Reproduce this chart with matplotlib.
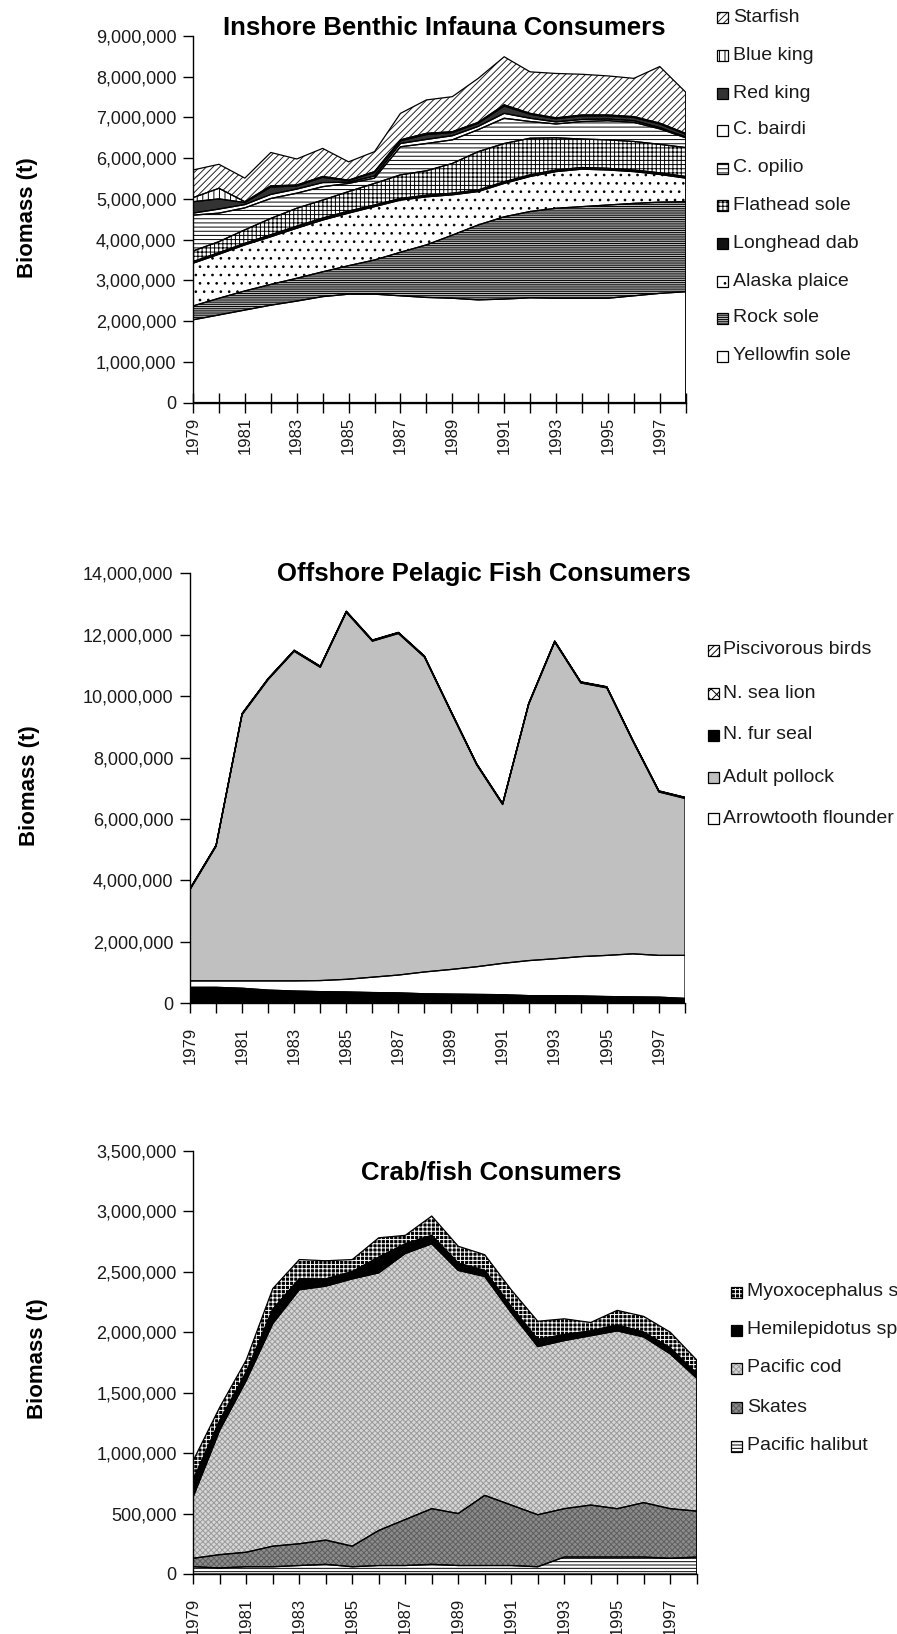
import matplotlib
matplotlib.use('Agg')
import matplotlib.pyplot as plt
from matplotlib.patches import Rectangle
from matplotlib.ticker import FuncFormatter, MultipleLocator
import numpy as np

plt.rcParams['font.family'] = ['Liberation Sans', 'DejaVu Sans']
plt.rcParams['hatch.linewidth'] = 0.7

W, H = 897, 1634

years = list(range(1979, 1999))
year_labels = [str(y) if y % 2 == 1 else '' for y in years]

# ---------------- Inshore Benthic Infauna Consumers (t) ----------------
yellowfin_sole = [2030000, 2150000, 2270000, 2390000, 2490000, 2600000, 2660000, 2660000, 2620000, 2580000,
                  2560000, 2520000, 2540000, 2570000, 2560000, 2560000, 2560000, 2620000, 2680000, 2720000]
rock_sole = [340000, 410000, 470000, 510000, 560000, 610000, 700000, 840000, 1070000, 1290000,
             1550000, 1840000, 2020000, 2120000, 2210000, 2250000, 2290000, 2270000, 2240000, 2210000]
alaska_plaice = [1050000, 1080000, 1130000, 1170000, 1230000, 1270000, 1290000, 1310000, 1280000, 1180000,
                 990000, 820000, 820000, 860000, 900000, 920000, 860000, 780000, 680000, 580000]
longhead_dab = [40000, 40000, 40000, 50000, 50000, 50000, 50000, 40000, 40000, 40000,
                40000, 40000, 40000, 40000, 40000, 40000, 40000, 40000, 40000, 40000]
flathead_sole = [260000, 270000, 330000, 400000, 440000, 440000, 480000, 530000, 580000, 600000,
                 730000, 940000, 940000, 900000, 790000, 700000, 700000, 700000, 700000, 710000]
c_opilio = [880000, 700000, 540000, 490000, 370000, 330000, 200000, 130000, 690000, 670000,
            580000, 540000, 620000, 410000, 340000, 430000, 470000, 470000, 380000, 240000]
c_bairdi = [50000, 100000, 80000, 100000, 100000, 100000, 30000, 50000, 80000, 100000,
            100000, 80000, 120000, 80000, 50000, 50000, 40000, 40000, 30000, 20000]
red_king = [280000, 250000, 50000, 180000, 80000, 130000, 40000, 90000, 70000, 120000,
            80000, 80000, 180000, 100000, 80000, 90000, 80000, 80000, 90000, 70000]
blue_king = [100000, 260000, 20000, 30000, 20000, 20000, 10000, 20000, 20000, 30000,
             20000, 20000, 30000, 20000, 20000, 20000, 20000, 20000, 20000, 20000]
starfish = [680000, 590000, 580000, 820000, 640000, 690000, 450000, 490000, 650000, 820000,
            860000, 1080000, 1180000, 1020000, 1090000, 1000000, 960000, 940000, 1390000, 1010000]

# ---------------- Offshore Pelagic Fish Consumers (t) ----------------
bottom_band = [520000, 520000, 490000, 430000, 400000, 380000, 370000, 350000, 340000, 310000,
               300000, 290000, 280000, 250000, 250000, 240000, 220000, 210000, 200000, 160000]
arrowtooth_flounder = [210000, 210000, 240000, 300000, 330000, 360000, 410000, 500000, 580000, 710000,
                       800000, 900000, 1020000, 1140000, 1200000, 1280000, 1340000, 1400000, 1360000, 1400000]
adult_pollock = [2970000, 4380000, 8670000, 9810000, 10730000, 10200000, 11950000, 10940000, 11120000, 10250000,
                 8410000, 6580000, 5170000, 8340000, 10310000, 8910000, 8710000, 6920000, 5320000, 5110000]
n_fur_seal = [20000, 20000, 20000, 20000, 20000, 20000, 20000, 20000, 20000, 20000,
              20000, 20000, 20000, 20000, 20000, 20000, 20000, 20000, 20000, 20000]
n_sea_lion = [10000, 10000, 10000, 10000, 10000, 10000, 10000, 10000, 10000, 10000,
              10000, 10000, 10000, 10000, 10000, 10000, 10000, 10000, 10000, 10000]
piscivorous_birds = [10000, 10000, 10000, 10000, 10000, 10000, 10000, 10000, 10000, 10000,
                     10000, 10000, 10000, 10000, 10000, 10000, 10000, 10000, 10000, 10000]

# ---------------- Crab/fish Consumers (t) ----------------
pacific_halibut = [60000, 50000, 60000, 60000, 70000, 80000, 60000, 70000, 70000, 80000,
                   70000, 70000, 70000, 60000, 140000, 140000, 140000, 140000, 130000, 140000]
skates = [70000, 110000, 120000, 170000, 180000, 200000, 170000, 290000, 380000, 460000,
          430000, 580000, 500000, 430000, 400000, 430000, 400000, 450000, 410000, 380000]
pacific_cod = [510000, 1030000, 1420000, 1840000, 2100000, 2100000, 2210000, 2130000, 2200000, 2190000,
               2010000, 1810000, 1590000, 1390000, 1390000, 1400000, 1470000, 1370000, 1280000, 1100000]
hemilepidotus = [140000, 80000, 70000, 120000, 90000, 60000, 60000, 130000, 80000, 70000,
                 60000, 50000, 50000, 60000, 50000, 40000, 50000, 40000, 50000, 40000]
myoxocephalus = [160000, 110000, 100000, 170000, 160000, 150000, 100000, 160000, 70000, 160000,
                 140000, 130000, 140000, 150000, 130000, 70000, 120000, 130000, 130000, 110000]

# styles: (facecolor, hatch, hatchcolor)
S = {
    'Yellowfin sole': ('white', None, 'black'),
    'Rock sole': ('#d2d2d2', '---------', 'black'),
    'Alaska plaice': ('white', '..', 'black'),
    'Longhead dab': ('#111111', None, 'black'),
    'Flathead sole': ('white', '++++', 'black'),
    'C. opilio': ('white', '----', 'black'),
    'C. bairdi': ('white', None, 'black'),
    'Red king': ('#333333', None, 'black'),
    'Blue king': ('white', '|||', 'black'),
    'Starfish': ('white', '/////', '#222222'),
    'Bottom': ('black', None, 'black'),
    'Arrowtooth flounder': ('white', None, 'black'),
    'Adult pollock': ('#c0c0c0', None, 'black'),
    'N. fur seal': ('black', '|', 'white'),
    'N. sea lion': ('white', 'xxx', 'black'),
    'Piscivorous birds': ('white', '/////', 'black'),
    'Pacific halibut': ('white', '-----', 'black'),
    'Skates': ('#8c8c8c', 'xxxxxx', '#5e5e5e'),
    'Pacific cod': ('#d6d6d6', 'xxxxxx', '#9a9a9a'),
    'Hemilepidotus sp.': ('black', None, 'black'),
    'Myoxocephalus sp.': ('black', '++++', 'white'),
}

fig = plt.figure(figsize=(W / 100, H / 100), dpi=100)


def px_axes(l, r, t, b):
    return fig.add_axes([l / W, 1 - b / H, (r - l) / W, (b - t) / H])


def stack(ax, series, names):
    x = np.array(years)
    lo = np.zeros(len(x))
    outlines = []
    for vals, name in zip(series, names):
        hi = lo + np.array(vals, dtype=float)
        fc, hatch, hc = S[name]
        ax.fill_between(x, lo, hi, facecolor=fc, edgecolor='none', linewidth=0, zorder=1)
        if hatch:
            ax.fill_between(x, lo, hi, facecolor='none', edgecolor=hc, hatch=hatch,
                            linewidth=0, zorder=1.5)
        outlines.append((lo.copy(), hi.copy()))
        lo = hi
    for a, b in outlines:
        ax.fill_between(x, a, b, facecolor='none', edgecolor='black', linewidth=0.9, zorder=2)


def style_axes(ax, ymax, ystep, xcross):
    ax.set_xlim(1979, 1998)
    ax.set_ylim(0, ymax)
    ax.yaxis.set_major_locator(MultipleLocator(ystep))
    ax.yaxis.set_major_formatter(FuncFormatter(lambda v, p: f'{int(round(v)):,}'))
    ax.set_xticks(years)
    ax.set_xticklabels(year_labels, rotation=90, fontsize=12, color='#1a1a1a')
    for s in ('top', 'right'):
        ax.spines[s].set_visible(False)
    for s in ('left', 'bottom'):
        ax.spines[s].set_linewidth(1.0)
        ax.spines[s].set_color('black')
        ax.spines[s].set_zorder(3)
    ax.tick_params(axis='y', direction='out', length=7, width=1, labelsize=13,
                   labelcolor='#1a1a1a', pad=5)
    if xcross:
        ax.tick_params(axis='x', direction='inout', length=14, width=1, pad=3)
    else:
        ax.tick_params(axis='x', direction='out', length=7, width=1, pad=10)
    ax.patch.set_alpha(0)


def legend(x_patch, x_text, ys, names, fs=14, size=11):
    for y, name in zip(ys, names):
        fc, hatch, hc = S[name]
        xy = (x_patch / W, 1 - (y + size / 2) / H)
        wh = (size / W, size / H)
        fig.add_artist(Rectangle(xy, *wh, transform=fig.transFigure, facecolor=fc,
                                 edgecolor='none', linewidth=0))
        if hatch:
            fig.add_artist(Rectangle(xy, *wh, transform=fig.transFigure, facecolor='none',
                                     edgecolor=hc, hatch=hatch, linewidth=0))
        fig.add_artist(Rectangle(xy, *wh, transform=fig.transFigure, facecolor='none',
                                 edgecolor='black', linewidth=0.9))
        fig.text(x_text / W, 1 - y / H, name, fontsize=fs, va='center', ha='left',
                 color='#1a1a1a')


# ---------- chart 1 ----------
ax1 = px_axes(193, 685.7, 36, 402.5)
names1 = ['Yellowfin sole', 'Rock sole', 'Alaska plaice', 'Longhead dab', 'Flathead sole',
          'C. opilio', 'C. bairdi', 'Red king', 'Blue king', 'Starfish']
stack(ax1, [yellowfin_sole, rock_sole, alaska_plaice, longhead_dab, flathead_sole,
            c_opilio, c_bairdi, red_king, blue_king, starfish], names1)
style_axes(ax1, 9000000, 1000000, True)
fig.text(444 / W, 1 - 28 / H, 'Inshore Benthic Infauna Consumers', fontsize=18.5,
         fontweight='bold', ha='center', va='center')
fig.text(27 / W, 1 - 218 / H, 'Biomass (t)', fontsize=16, fontweight='bold',
         rotation=90, ha='center', va='center')
legend(717, 733, [17, 55, 93, 130, 168, 205, 243, 281, 318, 356], names1[::-1])

# ---------- chart 2 ----------
ax2 = px_axes(190, 685, 573.3, 1003.3)
names2 = ['Bottom', 'Arrowtooth flounder', 'Adult pollock', 'N. fur seal', 'N. sea lion',
          'Piscivorous birds']
stack(ax2, [bottom_band, arrowtooth_flounder, adult_pollock, n_fur_seal, n_sea_lion,
            piscivorous_birds], names2)
style_axes(ax2, 14000000, 2000000, False)
fig.text(484 / W, 1 - 574 / H, 'Offshore Pelagic Fish Consumers', fontsize=18.5,
         fontweight='bold', ha='center', va='center')
fig.text(29 / W, 1 - 786 / H, 'Biomass (t)', fontsize=16, fontweight='bold',
         rotation=90, ha='center', va='center')
legend(708, 723, [650, 693, 735, 777, 819],
       ['Piscivorous birds', 'N. sea lion', 'N. fur seal', 'Adult pollock', 'Arrowtooth flounder'])

# ---------- chart 3 ----------
ax3 = px_axes(193.3, 696.7, 1150.7, 1574)
names3 = ['Pacific halibut', 'Skates', 'Pacific cod', 'Hemilepidotus sp.', 'Myoxocephalus sp.']
stack(ax3, [pacific_halibut, skates, pacific_cod, hemilepidotus, myoxocephalus], names3)
style_axes(ax3, 3500000, 500000, False)
fig.text(491 / W, 1 - 1173 / H, 'Crab/fish Consumers', fontsize=18.5,
         fontweight='bold', ha='center', va='center')
fig.text(37 / W, 1 - 1359 / H, 'Biomass (t)', fontsize=16, fontweight='bold',
         rotation=90, ha='center', va='center')
legend(731, 747, [1292, 1330, 1368, 1407, 1446], names3[::-1])

fig.savefig('out.png', dpi=100)
